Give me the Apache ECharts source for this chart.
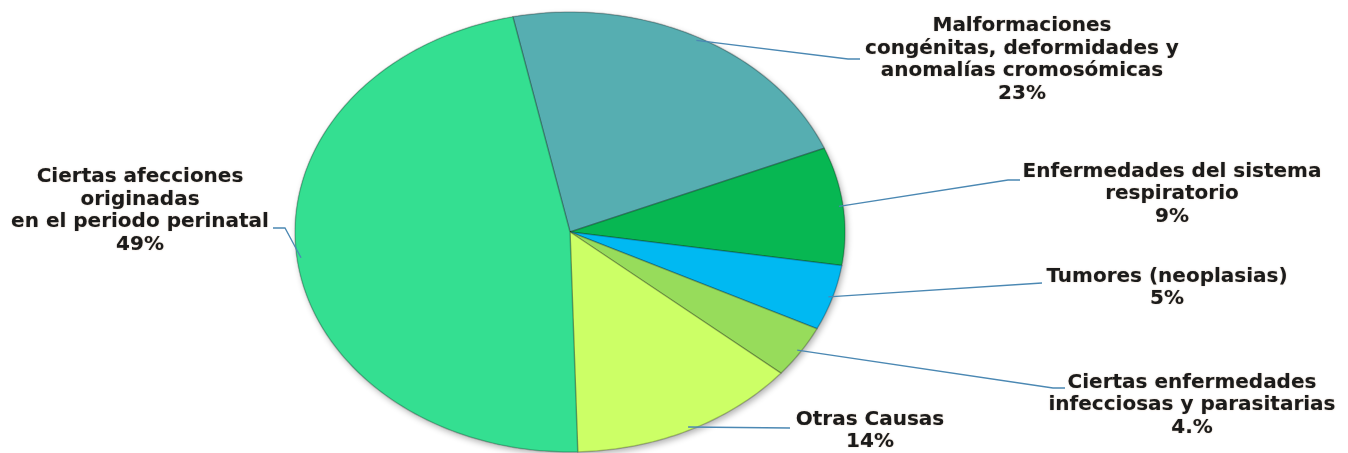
<!DOCTYPE html>
<html>
<head>
<meta charset="utf-8">
<script src="https://cdn.jsdelivr.net/npm/echarts@6/dist/echarts.min.js"></script>
<style>
  html, body { margin: 0; padding: 0; background: #fff; }
  #chart { width: 1348px; height: 453px; }
</style>
</head>
<body>
<div id="chart"></div>
<script>
// datos del grafico (sentido horario desde arriba)
var categories = [
  'Malformaciones\ncongénitas, deformidades y\nanomalías cromosómicas',
  'Enfermedades del sistema\nrespiratorio',
  'Tumores (neoplasias)',
  'Ciertas enfermedades\ninfecciosas y parasitarias',
  'Otras Causas',
  'Ciertas afecciones\noriginadas\nen el periodo perinatal'
];
var values = [23, 9, 5, 4, 14, 49];
var pctLabels = ['23%', '9%', '5%', '4.%', '14%', '49%'];

// colores de las rebanadas
var colors = ['#56aeb1', '#07b752', '#00b9f2', '#97dc5b', '#ccff66', '#34df91'];

// posicion de etiquetas y lineas guia (layout)
var START_ANGLE = -12;
var labelPos = [[1022, 60], [1172, 194], [1167, 288], [1192, 405], [870, 431], [140, 211]];
var leaderPath = [
  [[848, 59], [860, 59]],
  [[1008, 180], [1020, 180]],
  [[1042, 283]],
  [[1053, 388], [1065, 388]],
  [[790, 428]],
  [[285, 228], [273, 228]]
];

var total = values.reduce(function (a, b) { return a + b; }, 0);

function renderItem(params, api) {
  var i = params.dataIndex;
  var before = 0;
  for (var k = 0; k < i; k++) before += values[k];
  var a0 = START_ANGLE + before / total * 360;
  var a1 = a0 + api.value(2) / total * 360;

  // rebanada sobre la elipse (escalas x/y distintas)
  var pts = [api.coord([0, 0])];
  var n = Math.max(8, Math.ceil(a1 - a0));
  for (var s = 0; s <= n; s++) {
    var a = (a0 + (a1 - a0) * s / n) * Math.PI / 180;
    pts.push(api.coord([Math.sin(a), Math.cos(a)]));
  }

  var am = (a0 + a1) / 2 * Math.PI / 180;
  var line = [api.coord([Math.sin(am) * 0.985, Math.cos(am) * 0.985])].concat(leaderPath[i]);

  var children = [];
  if (i === 0) {
    // sombra del pastel completo
    var ring = [];
    for (var d = 0; d <= 360; d += 2) {
      var r = d * Math.PI / 180;
      ring.push(api.coord([Math.sin(r), Math.cos(r)]));
    }
    children.push({
      type: 'polygon',
      shape: { points: ring },
      style: { fill: '#999', shadowBlur: 6, shadowOffsetX: 2, shadowOffsetY: 3, shadowColor: 'rgba(0,0,0,0.3)' }
    });
  }
  children.push({
    type: 'polygon',
    shape: { points: pts },
    style: { fill: colors[i], stroke: 'rgba(0,0,0,0.22)', lineWidth: 1.5, lineJoin: 'round' }
  });
  children.push({
    type: 'polyline',
    shape: { points: line },
    style: { fill: null, stroke: '#4b88b3', lineWidth: 1.3 }
  });
  children.push({
    type: 'text',
    style: {
      text: categories[i] + '\n' + pctLabels[i],
      x: labelPos[i][0],
      y: labelPos[i][1],
      align: 'center',
      verticalAlign: 'middle',
      font: 'bold 20px "DejaVu Sans"',
      lineHeight: 22.5,
      fill: '#1b1b1b',
      textShadowBlur: 1.5,
      textShadowColor: 'rgba(120,60,0,0.35)'
    }
  });
  return { type: 'group', children: children };
}

var chart = echarts.init(document.getElementById('chart'));
chart.setOption({
  animation: false,
  backgroundColor: '#fff',
  grid: { left: 295, top: 12, width: 550, height: 440 },
  xAxis: { type: 'value', min: -1, max: 1, show: false },
  yAxis: { type: 'value', min: -1, max: 1, show: false },
  series: [{
    type: 'custom',
    clip: false,
    renderItem: renderItem,
    data: values.map(function (v, i) { return { name: categories[i], value: [0, 0, v] }; })
  }]
});
</script>
</body>
</html>
